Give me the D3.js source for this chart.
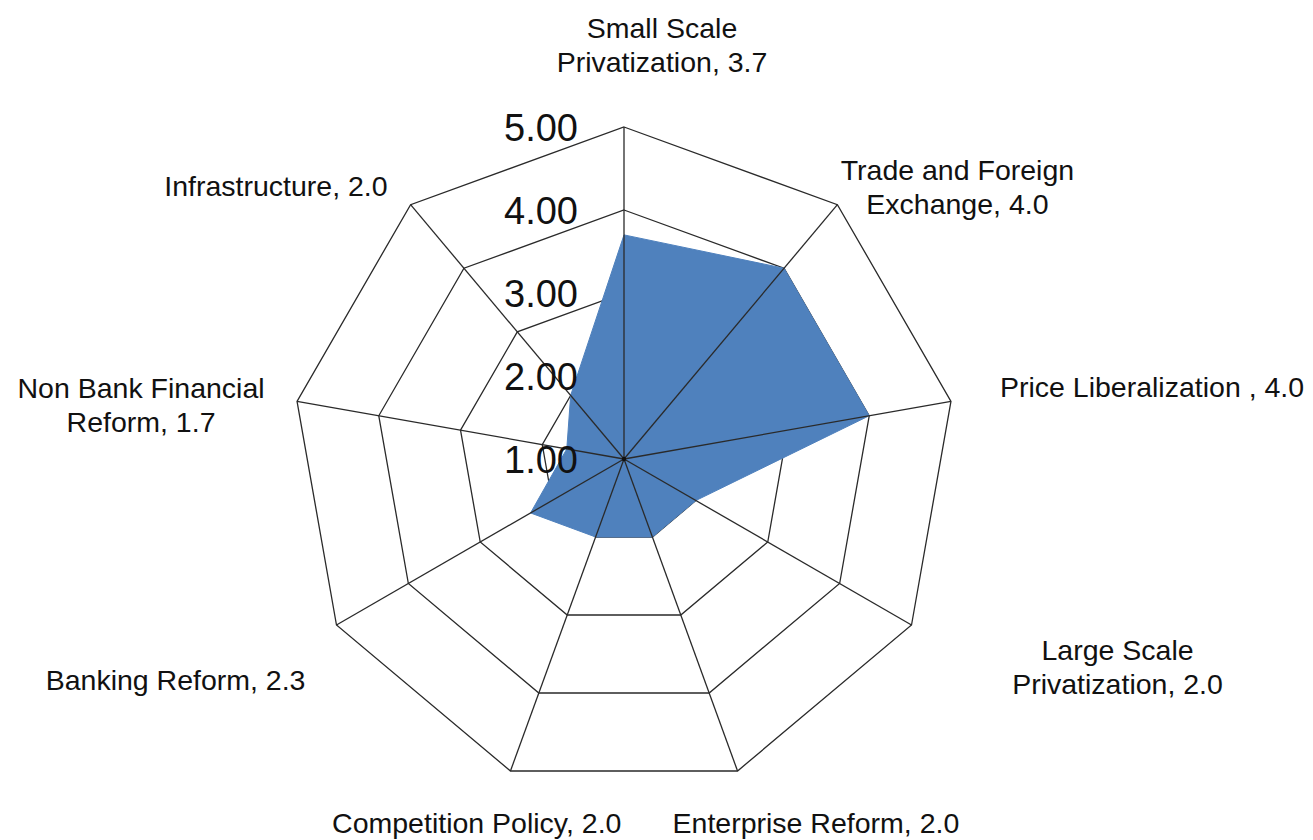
<!DOCTYPE html>
<html>
<head>
<meta charset="utf-8">
<script src="https://cdn.jsdelivr.net/npm/d3@7"></script>
<style>
  html, body { margin: 0; padding: 0; background: #fff; }
  svg { display: block; }
  text { font-family: "Liberation Sans", Arial, sans-serif; fill: #111; }
</style>
</head>
<body>
<svg id="chart" width="1313" height="840"></svg>
<script>
// ---- data ----
const categories = [
  ["Small Scale", "Privatization, 3.7"],
  ["Trade and Foreign", "Exchange, 4.0"],
  ["Price Liberalization , 4.0"],
  ["Large Scale", "Privatization, 2.0"],
  ["Enterprise Reform, 2.0"],
  ["Competition Policy, 2.0"],
  ["Banking Reform, 2.3"],
  ["Non Bank Financial", "Reform, 1.7"],
  ["Infrastructure, 2.0"]
];
const values = [3.7, 4.0, 4.0, 2.0, 2.0, 2.0, 2.3, 1.7, 2.0];
const ticks = [1, 2, 3, 4, 5];
const tickLabels = ["1.00", "2.00", "3.00", "4.00", "5.00"];

// ---- layout (label placement relative to outer vertex) ----
const labelLayout = [
  { anchor: "middle", dx: 38,    dy: -89 },
  { anchor: "middle", dx: 120,   dy: -25 },
  { anchor: "start",  dx: 49,    dy: -4 },
  { anchor: "middle", dx: 206,   dy: 35 },
  { anchor: "start",  dx: -65,   dy: 62 },
  { anchor: "end",    dx: 111,   dy: 62 },
  { anchor: "end",    dx: -31,   dy: 65 },
  { anchor: "middle", dx: -156,  dy: -3 },
  { anchor: "end",    dx: -23,   dy: -9 }
];

const cx = 624, cy = 459, R = 332;
const n = values.length;
const step = 2 * Math.PI / n;
const r = d3.scaleLinear().domain([ticks[0], ticks[ticks.length - 1]]).range([0, R]);

const svg = d3.select("#chart");
const g = svg.append("g").attr("transform", `translate(${cx},${cy})`);

const lineColor = "#2a2a2a";

// rings
const ring = d3.lineRadial()
  .angle((d, i) => i * step)
  .radius(d => r(d))
  .curve(d3.curveLinearClosed);

g.append("g").selectAll("path")
  .data(ticks.slice(1))
  .join("path")
  .attr("d", t => ring(d3.range(n).map(() => t)))
  .attr("fill", "none")
  .attr("stroke", lineColor)
  .attr("stroke-width", 1.3);

// series polygon
g.append("path")
  .attr("d", ring(values))
  .attr("fill", "#4F81BD")
  .attr("stroke", "#4F81BD")
  .attr("stroke-width", 1);

// spokes
g.append("g").selectAll("line")
  .data(d3.range(n))
  .join("line")
  .attr("x1", 0).attr("y1", 0)
  .attr("x2", i => d3.pointRadial(i * step, r(ticks[ticks.length - 1]))[0])
  .attr("y2", i => d3.pointRadial(i * step, r(ticks[ticks.length - 1]))[1])
  .attr("stroke", lineColor)
  .attr("stroke-width", 1.3);

g.append("circle").attr("r", 2.2).attr("fill", "#111");

// tick labels
g.append("g").selectAll("text")
  .data(ticks)
  .join("text")
  .attr("x", -46)
  .attr("y", t => -r(t))
  .attr("dy", "0.36em")
  .attr("text-anchor", "end")
  .style("font-size", "38px")
  .text((t, i) => tickLabels[i]);

// category labels
const lab = g.append("g").selectAll("text")
  .data(categories)
  .join("text")
  .attr("text-anchor", (d, i) => labelLayout[i].anchor)
  .attr("transform", (d, i) => {
    const p = d3.pointRadial(i * step, r(ticks[ticks.length - 1]));
    return `translate(${p[0] + labelLayout[i].dx},${p[1] + labelLayout[i].dy})`;
  })
  .style("font-size", "28.5px");

lab.selectAll("tspan")
  .data(d => d)
  .join("tspan")
  .attr("x", 0)
  .attr("y", (d, j) => j * 34)
  .text(d => d);
</script>
</body>
</html>
